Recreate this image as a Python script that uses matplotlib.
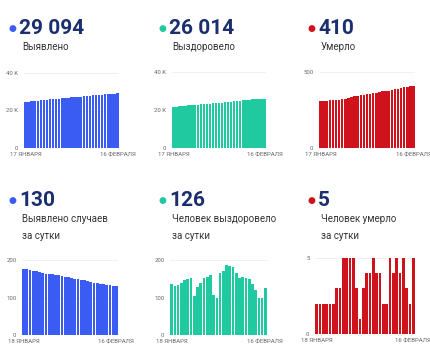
import matplotlib
matplotlib.use("Agg")
from matplotlib import pyplot as plt

plt.rcParams['font.family'] = ['Roboto', 'DejaVu Sans']

W, H = 430, 355

# cumulative, 17 Jan - 16 Feb
cases_total = [24500, 24675, 24852, 25026, 25198, 25369, 25538, 25704, 25868, 26030,
               26192, 26352, 26513, 26671, 26827, 26981, 27133, 27283, 27432, 27579,
               27725, 27869, 28011, 28151, 28289, 28425, 28560, 28694, 28827, 28964, 29094]
recov_total = [21700, 21835, 21967, 22101, 22241, 22387, 22537, 22690, 22795, 22923,
               23061, 23213, 23369, 23529, 23637, 23737, 23902, 24072, 24258, 24442,
               24624, 24802, 24967, 25119, 25274, 25427, 25577, 25712, 25834, 25888, 26014]
death_total = [307, 309, 311, 313, 315, 317, 319, 322, 325, 330, 335, 340, 345, 348, 349,
               352, 356, 360, 365, 369, 373, 375, 377, 382, 386, 391, 395, 400, 403, 405, 410]

# daily, 18 Jan - 16 Feb
cases_day = [175, 177, 174, 172, 171, 169, 166, 164, 162, 162, 160, 161, 158, 156, 154,
             152, 150, 149, 147, 146, 144, 142, 140, 138, 136, 135, 134, 133, 131, 130]
recov_day = [135, 132, 134, 140, 146, 150, 153, 105, 128, 138, 152, 156, 160, 108, 100,
             165, 170, 186, 184, 181, 165, 152, 155, 153, 150, 135, 121, 99, 100, 126]
death_day = [2, 2, 2, 2, 2, 2, 3, 3, 5, 5, 5, 5, 3, 1, 3,
             4, 4, 5, 4, 4, 2, 2, 5, 4, 5, 4, 5, 3, 2, 5]

BLUE = '#3a5cf2'
TEAL = '#20c9a0'
RED = '#d0121d'
NAVY = '#1b2f6e'

panels = [
    # data, color, big number, label, x-labels, yticks, yticklabels, dot x, bars x0, x1, top y, bottom y, text y
    (cases_total, BLUE, '29 094', 'Выявлено', ('17 ЯНВАРЯ', '16 ФЕВРАЛЯ'),
     [0, 20000, 40000], ['0', '20 K', '40 K'], 12, 24, 119, 73, 148, 28),
    (recov_total, TEAL, '26 014', 'Выздоровело', ('17 ЯНВАРЯ', '16 ФЕВРАЛЯ'),
     [0, 20000, 40000], ['0', '20 K', '40 K'], 162, 172, 266, 72, 148, 28),
    (death_total, RED, '410', 'Умерло', ('17 ЯНВАРЯ', '16 ФЕВРАЛЯ'),
     [0, 500], ['0', '500'], 311, 319, 415, 72, 148, 28),
    (cases_day, BLUE, '130', 'Выявлено случаев\nза сутки', ('18 ЯНВАРЯ', '16 ФЕВРАЛЯ'),
     [0, 100, 200], ['0', '100', '200'], 12, 22, 118, 260, 335, 200),
    (recov_day, TEAL, '126', 'Человек выздоровело\nза сутки', ('18 ЯНВАРЯ', '16 ФЕВРАЛЯ'),
     [0, 100, 200], ['0', '100', '200'], 162, 170, 267, 260, 335, 200),
    (death_day, RED, '5', 'Человек умерло\nза сутки', ('18 ЯНВАРЯ', '16 ФЕВРАЛЯ'),
     [0, 5], ['0', '5'], 311, 315, 415, 258, 334, 200),
]

fig = plt.figure(figsize=(W / 100, H / 100), dpi=100)
fig.patch.set_facecolor('white')

for vals, col, big, label, xl, yt, ytl, dx, x0, x1, yt_px, yb_px, ty in panels:
    ax = fig.add_axes([x0 / W, 1 - yb_px / H, (x1 - x0) / W, (yb_px - yt_px) / H])
    n = len(vals)
    ax.bar(range(n), vals, width=0.82, color=col, linewidth=0, zorder=2)
    ax.set_xlim(-0.5, n - 0.5)
    ax.set_ylim(0, yt[-1])
    ax.set_yticks(yt)
    ax.set_yticklabels(ytl)
    ax.set_xticks([0, n - 1])
    ax.set_xticklabels(xl)
    ax.tick_params(length=0, labelsize=4.3, colors='#666666', pad=3)
    ax.tick_params(axis='y', pad=4)
    ax.grid(axis='y', color='#eeeeee', linewidth=0.6, zorder=0)
    for s in ax.spines.values():
        s.set_visible(False)
    # headline
    fig.text(dx / W, 1 - ty / H, '\u25cf', color=col, fontsize=6.5, ha='center', va='center')
    fig.text((dx + 7) / W, 1 - ty / H, big, color=NAVY, fontsize=15, fontweight='bold',
             ha='left', va='center')
    fig.text((dx + 10) / W, 1 - (ty + 14) / H, label, color='#333333', fontsize=7,
             ha='left', va='top', linespacing=1.9)

fig.savefig('out.png', dpi=100, facecolor='white')
